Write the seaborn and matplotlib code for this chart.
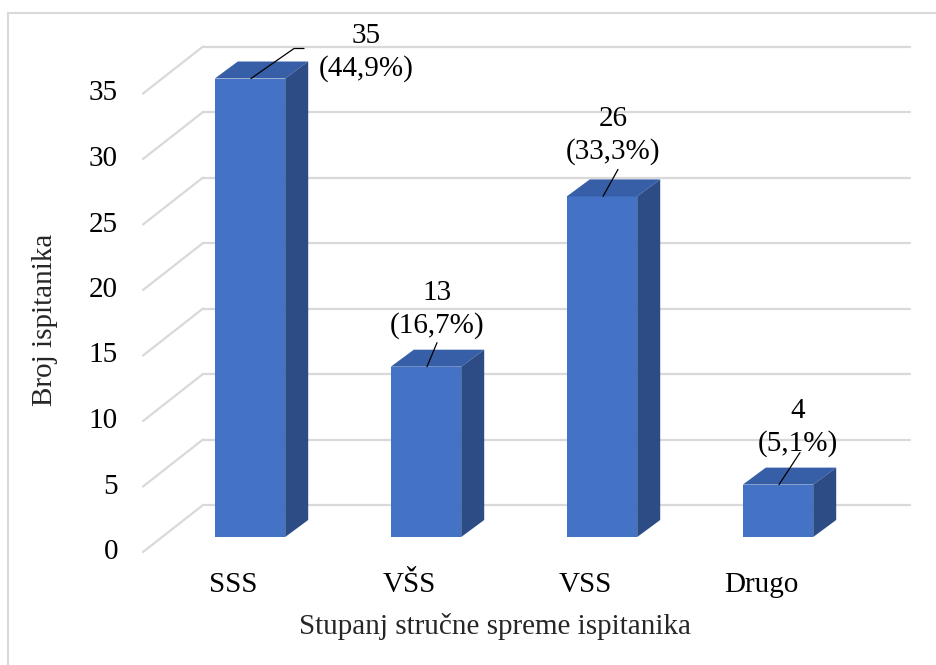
import numpy as np
import pandas as pd
import matplotlib.pyplot as plt
import matplotlib.lines as mlines
from matplotlib.patches import Polygon
import seaborn as sns

# -------------- Data ------------------

categories = ["SSS", "VŠS", "VSS", "Drugo"]
counts = [35, 13, 26, 4]
percents = ["44,9%", "16,7%", "33,3%", "5,1%"]
y_ticks = [0, 5, 10, 15, 20, 25, 30, 35]

# -------------- Layout (pixels) ------------------

W, H = 937, 665
FS = 21
front_col = "#4472C4"
top_col = "#375FA8"
side_col = "#2D4C86"
grid_col = "#D9D9D9"

# label block centre / leader end, relative to bar top centre (px)
label_off = [(115, 26), (10, 57), (10, 61), (19, 57)]
leader_off = [(43, 30), (10, 24), (15, 27), (21, 32)]

sns.set_theme(style="white")
plt.rcParams['font.family'] = ['Liberation Serif', 'DejaVu Serif']

fig = plt.figure(figsize=(W / 100, H / 100), dpi=100)
ax = fig.add_axes([100 / W, (H - 560) / H, 830 / W, 540 / H])

df = pd.DataFrame({"cat": categories, "n": counts})
sns.barplot(data=df, x="cat", y="n", color=front_col, width=0.4,
            saturation=1, linewidth=0, ax=ax, zorder=3)

# bar plane: category 0 centre at x=250px, value 0 at y=537px, 13.1 px/unit
sx, sy = 176.0, 13.1
ax.set_xlim(-150 / sx, 680 / sx)
ax.set_ylim(-23 / sy, 517 / sy)
ax.axis("off")

def px(dx, dy):
    # pixel offset -> data offset (dy positive = up)
    return dx / sx, dy / sy

# -------------- 3D-ish walls / gridlines ------------------

bdx, bdy = px(-47, 32)     # back wall left edge vs bar plane
fdx, fdy = px(-107, -15)   # front edge of floor
rdx, _ = px(660, 0)        # back wall right edge
for v in y_ticks:
    ax.add_line(mlines.Line2D([bdx, rdx], [v + bdy, v + bdy],
                              color=grid_col, lw=1.6, zorder=1))
    ax.add_line(mlines.Line2D([fdx, bdx], [v + fdy, v + bdy],
                              color=grid_col, lw=1.6, zorder=1))
    ax.text(fdx - 25 / sx, v + fdy, str(v), ha="right", va="center",
            fontsize=FS, color="black", clip_on=False)

# -------------- Bar top / side faces ------------------

ddx, ddy = px(23, 17)
for p in ax.patches[:len(counts)]:
    x0, w, h = p.get_x(), p.get_width(), p.get_height()
    x1 = x0 + w
    top = Polygon([(x0, h), (x1, h), (x1 + ddx, h + ddy), (x0 + ddx, h + ddy)],
                  closed=True, facecolor=top_col, edgecolor="none", zorder=4)
    side = Polygon([(x1, 0), (x1 + ddx, ddy), (x1 + ddx, h + ddy), (x1, h)],
                   closed=True, facecolor=side_col, edgecolor="none", zorder=4)
    ax.add_patch(top)
    ax.add_patch(side)

# -------------- Labels + leaders ------------------

for i, (n, pc) in enumerate(zip(counts, percents)):
    cx = i + 1 / sx
    lx, ly = px(*label_off[i])
    ax.text(cx + lx, n + ly, f"{n}\n({pc})", ha="center", va="center",
            fontsize=FS, linespacing=1.3, color="black", zorder=6)
    ex, ey = px(*leader_off[i])
    xs, ys = [cx, cx + ex], [n, n + ey]
    if i == 0:
        xs.append(cx + ex + 10 / sx)
        ys.append(n + ey)
    ax.add_line(mlines.Line2D(xs, ys, color="black", lw=0.9, zorder=6))

# category labels
cat_dy = -48 / sy
for i, c in enumerate(categories):
    ax.text(i - 17 / sx, cat_dy, c, ha="center", va="center",
            fontsize=FS, color="black", clip_on=False)

fig.text(495 / W, 1 - 627 / H, "Stupanj stručne spreme ispitanika",
         ha="center", va="center", fontsize=FS)
fig.text(45 / W, 1 - 320 / H, "Broj ispitanika", rotation=90,
         ha="center", va="center", fontsize=FS)

# chart border (top / left only, cropped screenshot)
fig.add_artist(mlines.Line2D([8 / W, 1], [1 - 13 / H, 1 - 13 / H],
                             transform=fig.transFigure, color="#D9D9D9", lw=1.5))
fig.add_artist(mlines.Line2D([8 / W, 8 / W], [0, 1 - 13 / H],
                             transform=fig.transFigure, color="#D9D9D9", lw=1.5))

fig.savefig("out.png", dpi=100)
